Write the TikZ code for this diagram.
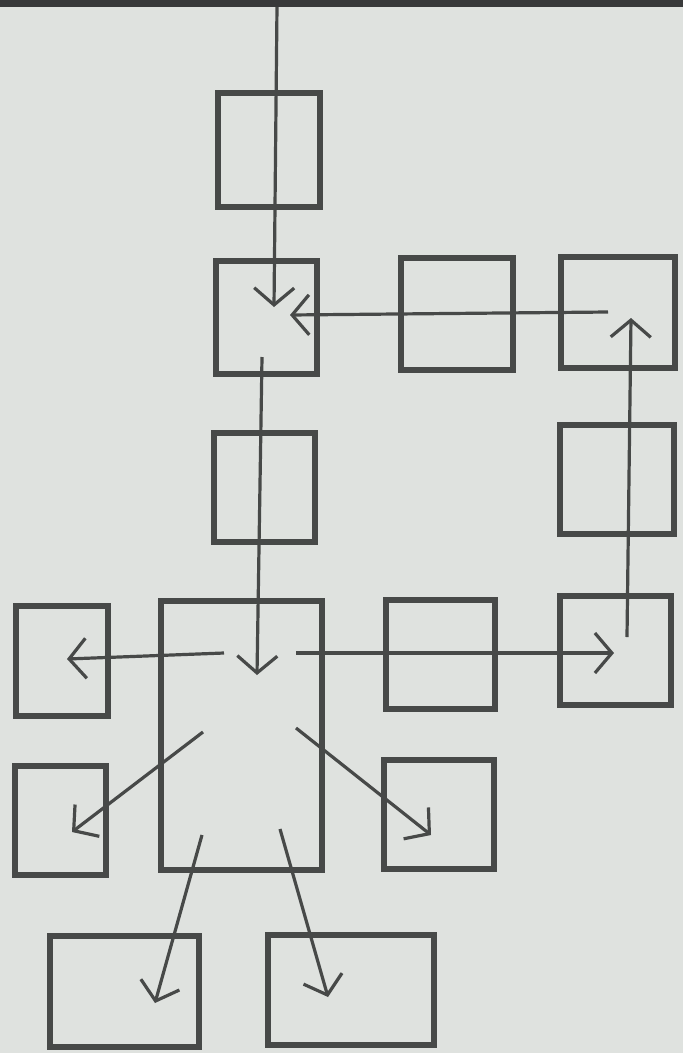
\documentclass[tikz,border=0pt]{standalone}
\usetikzlibrary{arrows.meta}
\definecolor{paper}{HTML}{DFE2DF}
\definecolor{ink}{HTML}{474948}
\definecolor{topbar}{HTML}{38393A}
\begin{document}
\begin{tikzpicture}[x=1pt,y=-1pt,
  box/.style={draw=ink,line width=6.5pt,fill=none,inner sep=0pt,outer sep=0pt},
  conn/.style={draw=ink,line width=3.2pt,-{Straight Barb[length=17pt,width=40pt]}}]
\fill[paper] (0,0) rectangle (683,1053);
\useasboundingbox (0,0) rectangle (683,1053);
% boxes
\node[box,minimum width=102pt,minimum height=114pt] (b1) at (269,150) {};
\node[box,minimum width=101pt,minimum height=113pt] (bA) at (266.5,317.5) {};
\node[box,minimum width=112pt,minimum height=112pt] (b3) at (457,314) {};
\node[box,minimum width=114pt,minimum height=111pt] (b4) at (618,312.5) {};
\node[box,minimum width=101pt,minimum height=109pt] (b5) at (264.5,487.5) {};
\node[box,minimum width=114pt,minimum height=109pt] (b6) at (617,479.5) {};
\node[box,minimum width=161pt,minimum height=269pt] (big) at (241.5,735.5) {};
\node[box,minimum width=92pt,minimum height=110pt] (L1) at (62,661) {};
\node[box,minimum width=109pt,minimum height=109pt] (b9) at (440.5,654.5) {};
\node[box,minimum width=111pt,minimum height=109pt] (b10) at (615.5,650.5) {};
\node[box,minimum width=91pt,minimum height=109pt] (L2) at (60.5,820.5) {};
\node[box,minimum width=110pt,minimum height=109pt] (b12) at (439,814.5) {};
\node[box,minimum width=149pt,minimum height=111pt] (BL) at (124.5,991.5) {};
\node[box,minimum width=166pt,minimum height=110pt] (BR) at (351,990) {};
% connector end points
\coordinate (top) at (277,6);
\coordinate (aIn) at (274,307);
\coordinate (aInR) at (290,315);
\coordinate (c4s) at (608,312);
\coordinate (aOut) at (262,357);
\coordinate (bigIn) at (257,675);
\coordinate (bigL) at (224,653);
\coordinate (L1in) at (67,659);
\coordinate (bigR) at (296,653);
\coordinate (b10in) at (614,653);
\coordinate (b10s) at (627,637);
\coordinate (b4in) at (631,318);
\coordinate (bigDL) at (203,732);
\coordinate (L2in) at (72,832);
\coordinate (bigDR) at (296,728);
\coordinate (b12in) at (431,835);
\coordinate (bigBL) at (202,835);
\coordinate (BLin) at (155,1003);
\coordinate (bigBR) at (280,829);
\coordinate (BRin) at (328,997);
% connectors
\draw[conn] (top) -- (aIn);
\draw[conn] (c4s) -- (aInR);
\draw[conn] (aOut) -- (bigIn);
\draw[conn] (bigL) -- (L1in);
\draw[conn] (bigR) -- (b10in);
\draw[conn] (b10s) -- (b4in);
\draw[conn] (bigDL) -- (L2in);
\draw[conn] (bigDR) -- (b12in);
\draw[conn] (bigBL) -- (BLin);
\draw[conn] (bigBR) -- (BRin);
% top dark strip
\fill[topbar] (0,0) rectangle (683,7);
\end{tikzpicture}
\end{document}
